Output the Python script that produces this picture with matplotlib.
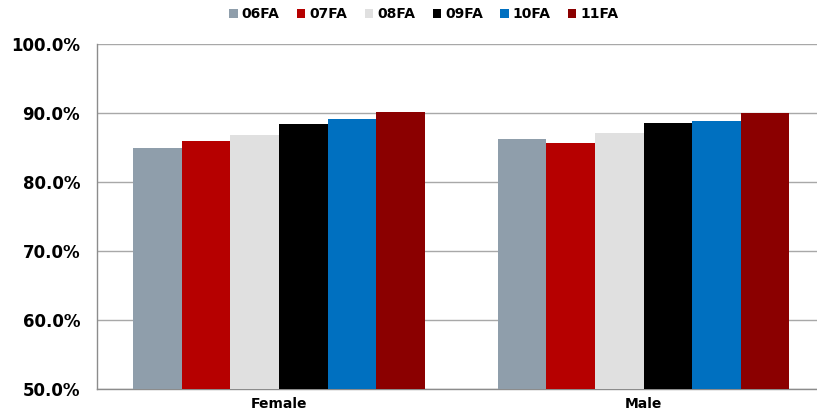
import matplotlib
matplotlib.use("Agg")
import matplotlib.pyplot as plt
import numpy as np
from matplotlib.ticker import FuncFormatter, MultipleLocator

categories = ["Female", "Male"]
series_names = ["06FA", "07FA", "08FA", "09FA", "10FA", "11FA"]
colors = ["#8f9eab", "#b60000", "#e0e0e0", "#000000", "#0070c0", "#8b0000"]
values_06fa = [84.9, 86.2]
values_07fa = [86.0, 85.7]
values_08fa = [86.9, 87.1]
values_09fa = [88.4, 88.6]
values_10fa = [89.2, 88.9]
values_11fa = [90.2, 90.0]
all_values = [values_06fa, values_07fa, values_08fa, values_09fa, values_10fa, values_11fa]

fig = plt.figure(figsize=(8.17, 4.19), dpi=100)
ax = fig.add_axes([96.7 / 817, 30.2 / 419, 1 - 96.7 / 817, (388.8 - 44.3) / 419])

x = np.arange(len(categories))
n = len(series_names)
width = 0.8 / n
for i, (name, vals, c) in enumerate(zip(series_names, all_values, colors)):
    offs = (i - (n - 1) / 2) * width
    ax.bar(x + offs, vals, width=width, color=c, label=name, zorder=3,
           edgecolor="none")

ax.set_ylim(50, 100)
ax.set_xlim(-0.5, (817 - 96.7) / 364.6 - 0.5)
ax.yaxis.set_major_locator(MultipleLocator(10))
ax.yaxis.set_major_formatter(FuncFormatter(lambda v, p: f"{v:.1f}%"))
ax.grid(axis="y", color="#a8a8a8", linewidth=1.0, zorder=0)
ax.set_xticks(x)
ax.set_xticklabels(categories, fontsize=10, fontweight="bold", family="DejaVu Sans")
for lab in ax.get_yticklabels():
    lab.set_fontsize(12)
    lab.set_fontweight("bold")
ax.tick_params(axis="y", length=0, pad=12)
ax.tick_params(axis="x", length=0, pad=6)
for s in ["top", "right"]:
    ax.spines[s].set_visible(False)
for s in ["left", "bottom"]:
    ax.spines[s].set_color("#8c8c8c")
    ax.spines[s].set_linewidth(1.0)

leg = fig.legend(loc="center", bbox_to_anchor=(424 / 817, 1 - 14 / 419), ncol=6,
                 frameon=False, handlelength=0.6, handleheight=0.6,
                 handletextpad=0.3, columnspacing=1.25,
                 prop={"weight": "bold", "size": 10})

fig.savefig("out.png", dpi=100)
